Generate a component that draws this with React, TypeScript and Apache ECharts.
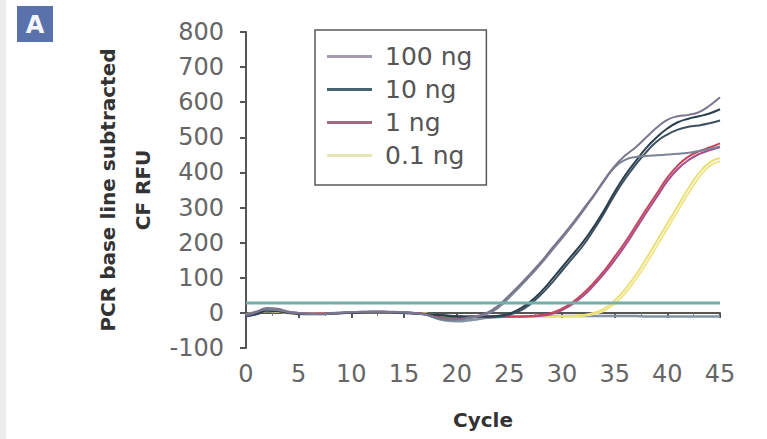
import React, { useEffect, useRef } from "react";
import * as echarts from "echarts";

const cycles = [0, 1, 2, 3, 4, 5, 6, 7, 8, 9, 10, 11, 12, 13, 14, 15, 16, 17, 18, 19, 20, 21, 22, 23, 24, 25, 26, 27, 28, 29, 30, 31, 32, 33, 34, 35, 36, 37, 38, 39, 40, 41, 42, 43, 44, 45];

const ng100a = [-8, 2, 14, 12, 4, 0, -2, -3, -2, 0, 2, 3, 4, 4, 3, 2, 0, -4, -12, -18, -18, -14, -8, 2, 22, 50, 80, 112, 145, 182, 218, 255, 295, 335, 378, 418, 448, 472, 500, 528, 550, 560, 564, 572, 590, 614];
const ng100b = [-6, 4, 10, 8, 2, -1, -3, -3, -1, 1, 2, 3, 3, 3, 2, 1, -1, -5, -14, -20, -20, -16, -10, -2, 16, 44, 74, 106, 140, 176, 212, 250, 290, 332, 375, 415, 436, 444, 447, 449, 451, 453, 456, 461, 467, 474];
const ng10a = [-10, -4, 6, 5, 0, -3, -4, -4, -3, -1, 0, 1, 2, 2, 1, 0, -2, -4, -6, -8, -10, -10, -10, -10, -8, -2, 12, 32, 60, 94, 130, 166, 202, 245, 292, 345, 392, 432, 470, 500, 525, 543, 553, 560, 568, 580];
const ng10b = [-8, -2, 8, 6, 1, -2, -3, -3, -2, 0, 1, 2, 2, 2, 1, 0, -1, -3, -5, -7, -9, -10, -10, -11, -10, -5, 6, 25, 52, 84, 120, 156, 192, 236, 284, 336, 382, 422, 458, 488, 508, 522, 530, 534, 540, 548];
const ng1a = [-6, 0, 8, 6, 1, -2, -3, -2, -1, 0, 1, 2, 3, 3, 2, 1, 0, -3, -10, -14, -14, -12, -10, -10, -10, -10, -10, -9, -6, 0, 12, 30, 55, 85, 120, 160, 202, 248, 295, 340, 385, 420, 445, 460, 471, 483];
const ng1b = [-5, 1, 9, 7, 2, -1, -2, -2, -1, 0, 1, 2, 2, 2, 2, 1, -1, -4, -11, -15, -15, -13, -11, -11, -11, -11, -11, -10, -8, -3, 8, 25, 48, 78, 112, 150, 192, 238, 285, 330, 375, 410, 435, 452, 463, 472];
const ng01a = [-4, 2, 6, 4, 0, -2, -2, -2, -1, 0, 1, 2, 2, 2, 2, 1, 0, -2, -6, -10, -12, -12, -11, -11, -11, -10, -10, -10, -10, -10, -9, -8, -6, 0, 12, 35, 68, 108, 155, 205, 255, 305, 355, 398, 428, 441];
const ng01b = [-5, 1, 5, 3, 0, -2, -2, -2, -1, 0, 1, 1, 2, 2, 1, 1, 0, -2, -7, -11, -13, -13, -12, -12, -12, -11, -11, -11, -11, -11, -10, -9, -8, -3, 6, 26, 56, 95, 140, 190, 240, 290, 340, 385, 418, 432];
const ntc = [-8, -2, 10, 8, 2, -1, -2, -2, -1, 0, 1, 2, 2, 2, 1, 0, -1, -4, -15, -22, -24, -22, -18, -14, -12, -11, -10, -10, -9, -9, -9, -9, -9, -9, -9, -9, -9, -9, -10, -10, -10, -10, -10, -10, -10, -10];
const thresholdCycles = [0, 45];
const thresholdValue = [28, 28];

const legendNames = ["100 ng", "10 ng", "1 ng", "0.1 ng"];
const legendColors = ["#a49cae", "#46656f", "#a06a80", "#e6e6b4"];
const xTicks = { min: 0, max: 45, interval: 5 };
const yTicks = { min: -100, max: 800, interval: 100 };

const pairs = (ys: number[]) => ys.map((v, i) => [cycles[i], v]);

export default function App() {
  const ref = useRef<HTMLDivElement>(null);
  useEffect(() => {
    if (!ref.current) return;
    const chart = echarts.init(ref.current, null, { renderer: "svg" });
    const curve = (name: string, data: number[], color: string, width = 2) => ({
      type: "line",
      name,
      data: pairs(data),
      smooth: true,
      showSymbol: false,
      symbol: "none",
      lineStyle: { color, width },
      itemStyle: { color },
    });
    const option: any = {
      animation: false,
      backgroundColor: "#ffffff",
      grid: { left: 246, right: 47, top: 32, bottom: 91 },
      legend: {
        data: legendNames.map((n, i) => ({ name: n, itemStyle: { color: legendColors[i] } })),
        orient: "vertical",
        left: 315,
        top: 30,
        padding: [14, 14, 17, 12],
        itemGap: 8,
        itemWidth: 45,
        itemHeight: 3,
        icon: "rect",
        borderColor: "#5a5a5a",
        borderWidth: 1.5,
        selectedMode: false,
        textStyle: {
          fontFamily: "DejaVu Sans",
          fontSize: 25,
          color: "#555",
          lineHeight: 25,
          padding: [0, 0, 0, 8],
        },
      },
      xAxis: {
        type: "value",
        min: xTicks.min,
        max: xTicks.max,
        interval: xTicks.interval,
        name: "Cycle",
        nameLocation: "middle",
        nameGap: 62,
        nameTextStyle: { fontFamily: "DejaVu Sans", fontWeight: "bold", fontSize: 20, color: "#333" },
        axisLine: { lineStyle: { color: "#555", width: 2 } },
        axisTick: { length: 5, lineStyle: { color: "#555", width: 2 } },
        minorTick: { show: true, splitNumber: 2, length: 3, lineStyle: { color: "#777" } },
        splitLine: { show: false },
        axisLabel: { margin: 14, fontFamily: "DejaVu Sans", fontSize: 24, color: "#666" },
      },
      yAxis: {
        type: "value",
        min: yTicks.min,
        max: yTicks.max,
        interval: yTicks.interval,
        axisLine: { show: true, lineStyle: { color: "#555", width: 2 } },
        axisTick: { show: true, length: 6, lineStyle: { color: "#555", width: 2 } },
        splitLine: { show: false },
        axisLabel: { margin: 22, fontFamily: "DejaVu Sans", fontSize: 24, color: "#666" },
      },
      graphic: [
        { type: "rect", left: 0, top: 0, shape: { width: 6, height: 439 }, style: { fill: "#ececec" } },
        { type: "rect", shape: { x: 17, y: 6, width: 36, height: 36 }, style: { fill: "#5a72ac" } },
        {
          type: "text",
          x: 35,
          y: 25,
          style: { text: "A", fill: "#f4f6fb", font: "bold 24px 'DejaVu Sans'", align: "center", verticalAlign: "middle" },
        },
        {
          type: "text",
          x: 108,
          y: 190,
          rotation: Math.PI / 2,
          style: {
            text: "PCR base line subtracted",
            fill: "#333",
            font: "bold 20px 'DejaVu Sans'",
            align: "center",
            verticalAlign: "middle",
          },
        },
        {
          type: "text",
          x: 143,
          y: 190,
          rotation: Math.PI / 2,
          style: { text: "CF RFU", fill: "#333", font: "bold 20px 'DejaVu Sans'", align: "center", verticalAlign: "middle" },
        },
      ],
      series: [
        curve("ntc", ntc, "#8393a4", 2.5),
        curve("0.1 ng", ng01b, "#efe68c"),
        curve("0.1 ng", ng01a, "#ebe078"),
        curve("1 ng", ng1b, "#a4508c"),
        curve("1 ng", ng1a, "#c6465f"),
        curve("10 ng", ng10b, "#3c5262"),
        curve("10 ng", ng10a, "#2c3f4e"),
        curve("100 ng", ng100b, "#7a8494"),
        curve("100 ng", ng100a, "#7d7590"),
        {
          type: "line",
          name: "threshold",
          data: thresholdCycles.map((c, i) => [c, thresholdValue[i]]),
          showSymbol: false,
          symbol: "none",
          lineStyle: { color: "#72afa8", width: 3 },
        },
      ],
    };
    chart.setOption(option);
    return () => chart.dispose();
  }, []);
  return (
    <div
      ref={ref}
      style={{ position: "fixed", left: 0, top: 0, width: 767, height: 439, background: "#fff" }}
    />
  );
}
